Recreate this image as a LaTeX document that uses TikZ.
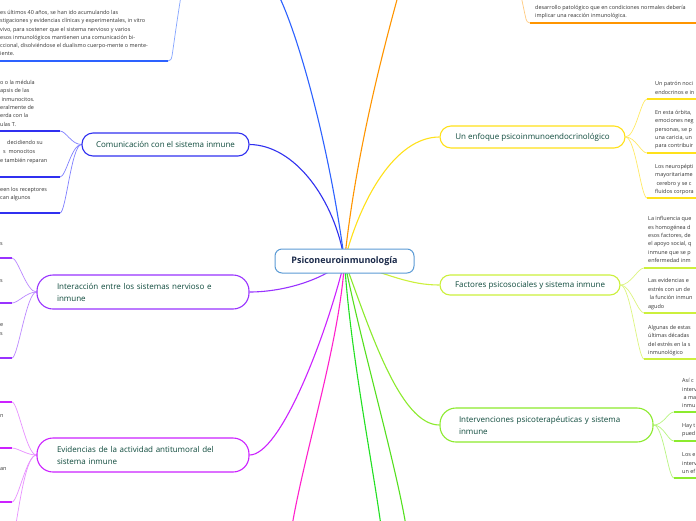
\documentclass[tikz,border=0pt]{standalone}
\usepackage{fontspec}
\setmainfont{Open Sans}
\usetikzlibrary{backgrounds,calc}
\definecolor{cText}{HTML}{333333}
\definecolor{cTopic}{HTML}{0E4A3C}
\definecolor{cNavy}{HTML}{1B2A4A}
\definecolor{cCentral}{HTML}{5B9BD5}
\definecolor{cCom}{HTML}{3030F0}
\definecolor{cComL}{HTML}{8080FF}
\definecolor{cTL}{HTML}{2D62FF}
\definecolor{cTLL}{HTML}{85A5FF}
\definecolor{cOr}{HTML}{FF9500}
\definecolor{cOrL}{HTML}{FFCB80}
\definecolor{cYel}{HTML}{FFE11A}
\definecolor{cYelL}{HTML}{FFEA66}
\definecolor{cFac}{HTML}{CCF03C}
\definecolor{cFacL}{HTML}{DDF580}
\definecolor{cInt}{HTML}{8CEB2E}
\definecolor{cIntL}{HTML}{B8F580}
\definecolor{cIA}{HTML}{9933FF}
\definecolor{cIAL}{HTML}{BB88FF}
\definecolor{cEv}{HTML}{CC22FF}
\definecolor{cEvL}{HTML}{E890FF}
\definecolor{cPink}{HTML}{FF22CC}
\definecolor{cGa}{HTML}{22E022}
\definecolor{cGb}{HTML}{55E020}
\begin{document}
\begin{tikzpicture}[x=1pt,y=-1pt,
  sm/.style={font=\fontsize{5.45}{6}\selectfont, text=cText, inner sep=0pt, anchor=mid west},
  topic/.style={draw, line width=1.1pt, fill=white, text=cTopic, font=\fontsize{8}{12}\selectfont, inner sep=0pt},
  branch/.style={line width=1.1pt},
  conn/.style={line width=0.7pt},
  uline/.style={line width=1.6pt}]
\useasboundingbox (0,0) rectangle (696,520);

% ---------- topic nodes ----------
\node[draw=cCentral, line width=1pt, rounded corners=7pt, fill=white, minimum width=139pt, minimum height=24pt, inner sep=0pt, text=cNavy, font=\bfseries\fontsize{9}{10}\selectfont] (c) at (344.5,261) {Psiconeuroinmunología};
\node[topic, draw=cCom, rounded corners=11pt, minimum width=167pt, minimum height=23pt] (com) at (165.5,144.5) {Comunicación con el sistema inmune};
\node[topic, draw=cIA, rounded corners=16pt, minimum height=34pt, text width=172pt, align=left, inner xsep=20pt] (ia) at (143,292) {Interacción entre los sistemas nervioso e\\inmune};
\node[topic, draw=cEv, rounded corners=16pt, minimum height=34pt, text width=172pt, align=left, inner xsep=20pt] (evi) at (143,455) {Evidencias de la actividad antitumoral del\\sistema inmune};
\node[topic, draw=cYel, rounded corners=11pt, minimum width=185pt, minimum height=22pt] (enf) at (532.5,137) {Un enfoque psicoinmunoendocrinológico};
\node[topic, draw=cFac, rounded corners=10pt, minimum width=180pt, minimum height=20pt] (fac) at (530,285) {Factores psicosociales y sistema inmune};
\node[topic, draw=cInt, rounded corners=16pt, minimum height=34pt, text width=175pt, align=left, inner xsep=19pt] (int) at (546.5,425) {Intervenciones psicoterapéuticas y sistema\\inmune};

% ---------- free ends and corners ----------
\coordinate (tlp) at (279,-4);
\coordinate (orp) at (398,-4);
\coordinate (pkp) at (292,526);
\coordinate (gap) at (381,526);
\coordinate (gbp) at (406,526);
\coordinate (tls) at (181,-4);
\coordinate (tlk) at (168,61);
\coordinate (trs) at (521,-4);
\coordinate (trk) at (530,23);
\coordinate (e1) at (647,99);  \coordinate (e2) at (647,153); \coordinate (e3) at (647,198);
\coordinate (f1) at (644,268); \coordinate (f2) at (644,313); \coordinate (f3) at (644,359);
\coordinate (v1) at (674,412); \coordinate (v2) at (674,441); \coordinate (v3) at (674,478);
\coordinate (k1) at (60,131);  \coordinate (k2) at (60,177);  \coordinate (k3) at (60,213);
\coordinate (a1) at (12,258);  \coordinate (a2) at (12,303);  \coordinate (a3) at (12,358);
\coordinate (d1) at (12,402);  \coordinate (d2) at (12,448);  \coordinate (d3) at (12,502);
\coordinate (d4) at (15,530);

% ---------- underlines ----------
\draw[uline, cTL] (tlk) -- ++(-180,0);
\draw[uline, cOr] (trk) -- ++(180,0);
\foreach \k in {e1,e2,e3} \draw[uline, cYel] (\k) -- ++(60,0);
\foreach \k in {f1,f2,f3} \draw[uline, cFac] (\k) -- ++(60,0);
\foreach \k in {v1,v2,v3} \draw[uline, cInt] (\k) -- ++(60,0);
\foreach \k in {k1,k2,k3} \draw[uline, cCom] (\k) -- ++(-70,0);
\foreach \k in {a1,a2,a3} \draw[uline, cIA] (\k) -- ++(-20,0);
\foreach \k in {d1,d2,d3} \draw[uline, cEv] (\k) -- ++(-20,0);

% ---------- texts ----------
\foreach \s [count=\i] in {{es últimos 40 años, se han ido acumulando las},{stigaciones y evidencias clínicas y experimentales, in vitro},{vivo, para sostener que el sistema nervioso y varios},{esos inmunológicos mantienen una comunicación bi-},{ccional, disolviéndose el dualismo cuerpo-mente o mente-},{iente.}}
  \node[sm] (tl\i) at (0,{12+(\i-1)*8.2}) {\s};
\foreach \s [count=\i] in {{desarrollo patológico que en condiciones normales debería},{implicar una reacción inmunológica.}}
  \node[sm] (tr\i) at (535,{7+(\i-1)*8}) {\s};
\foreach \s [count=\i] in {{Un patrón noci},{endocrinos e in}}
  \node[sm] (ea\i) at (655,{83+(\i-1)*9}) {\s};
\foreach \s [count=\i] in {{En esta órbita,},{emociones neg},{personas, se p},{una caricia, un},{para contribuir}}
  \node[sm] (eb\i) at (655,{112+(\i-1)*8.3}) {\s};
\foreach \s [count=\i] in {{Los neuropépti},{mayoritariame},{\ cerebro y se c},{fluidos corpora}}
  \node[sm] (ec\i) at (655,{166+(\i-1)*8.3}) {\s};
\foreach \s [count=\i] in {{La influencia que},{es homogénea d},{esos factores, de},{el apoyo social, q},{inmune que se p},{enfermedad inm}}
  \node[sm] (fa\i) at (648,{218+(\i-1)*8.4}) {\s};
\foreach \s [count=\i] in {{Las evidencias e},{estrés con un de},{\ la función inmun},{agudo}}
  \node[sm] (fb\i) at (648,{280+(\i-1)*8.6}) {\s};
\foreach \s [count=\i] in {{Algunas de estas},{últimas décadas},{del estrés en la s},{inmunológico}}
  \node[sm] (fc\i) at (648,{327+(\i-1)*8.3}) {\s};
\foreach \s [count=\i] in {{Así c},{interv},{\ a ma},{inmu}}
  \node[sm] (va\i) at (682,{380+(\i-1)*8.4}) {\s};
\foreach \s [count=\i] in {{Hay t},{pued}}
  \node[sm] (vb\i) at (682,{425+(\i-1)*8.3}) {\s};
\foreach \s [count=\i] in {{Los e},{interv},{un ef}}
  \node[sm] (vc\i) at (682,{454+(\i-1)*8.4}) {\s};
\foreach \s [count=\i] in {{o o la médula},{apsis de las},{\ inmunocitos.},{eralmente de},{erda con la},{ulas T.}}
  \node[sm] (ca\i) at (0,{82+(\i-1)*8.3}) {\s};
\node[sm] (cb1) at (7,142) {decidiendo su};
\node[sm] (cb2) at (3,151) {s\enspace monocitos};
\node[sm] (cb3) at (0,160) {e también reparan};
\foreach \s [count=\i] in {{een los receptores},{can algunos}}
  \node[sm] (cc\i) at (0,{189+(\i-1)*8.3}) {\s};
\node[sm] (ta1) at (0,243) {s};
\node[sm] (ta2) at (0,280) {s};
\node[sm] (ta3) at (0,324) {e};
\node[sm] (ta4) at (0,333) {s};
\node[sm] (td2) at (0,415) {n};
\node[sm] (td3) at (0,468) {an};

% ---------- connectors (behind nodes) ----------
\begin{pgfonlayer}{background}
\fill[white] (0,0) rectangle (696,520);
\draw[branch, cCom]  (c.center) .. controls (335,200) and (295,145) .. (com.east);
\draw[branch, cTL]   (c.center) .. controls (330,150) and (300,40) .. (tlp);
\draw[branch, cOr]   (c.center) .. controls (356,150) and (386,40) .. (orp);
\draw[branch, cYel]  (c.center) .. controls (360,200) and (395,137) .. (enf.west);
\draw[branch, cFac]  (c.center) .. controls (390,275) and (410,285) .. (fac.west);
\draw[branch, cInt]  (c.center) .. controls (370,330) and (400,425) .. (int.west);
\draw[branch, cGb]   (c.center) .. controls (360,340) and (395,460) .. (gbp);
\draw[branch, cGa]   (c.center) .. controls (350,350) and (372,460) .. (gap);
\draw[branch, cPink] (c.center) .. controls (340,340) and (305,450) .. (pkp);
\draw[branch, cEv]   (c.center) .. controls (325,340) and (280,455) .. (evi.east);
\draw[branch, cIA]   (c.center) .. controls (320,282) and (280,292) .. (ia.east);
% top boxes
\draw[conn, cTLL] (tls) .. controls (177,20) and (173,50) .. (172,56) .. controls (171,60) .. (tlk);
\draw[conn, cOrL] (trs) .. controls (523,5) and (525,15) .. (526,19) .. controls (527,22) .. (trk);
% right children
\foreach \k in {e1,e2,e3} \draw[conn, cYelL] (enf.east) .. controls +(10,0) and ($(\k)+(-6,0)$) .. (\k);
\foreach \k in {f1,f2,f3} \draw[conn, cFacL] (fac.east) .. controls +(10,0) and ($(\k)+(-6,0)$) .. (\k);
\foreach \k in {v1,v2,v3} \draw[conn, cIntL] (int.east) .. controls +(10,0) and ($(\k)+(-6,0)$) .. (\k);
% left children
\foreach \k in {k1,k2,k3} \draw[conn, cComL] (com.west) .. controls +(-10,0) and ($(\k)+(6,0)$) .. (\k);
\foreach \k in {a1,a2,a3} \draw[conn, cIAL] (ia.west) .. controls +(-10,0) and ($(\k)+(6,0)$) .. (\k);
\foreach \k in {d1,d2,d3} \draw[conn, cEvL] (evi.west) .. controls +(-10,0) and ($(\k)+(6,0)$) .. (\k);
\draw[conn, cEvL] (evi.west) .. controls +(-10,0) and (20,500) .. (d4);
\end{pgfonlayer}
\end{tikzpicture}
\end{document}
